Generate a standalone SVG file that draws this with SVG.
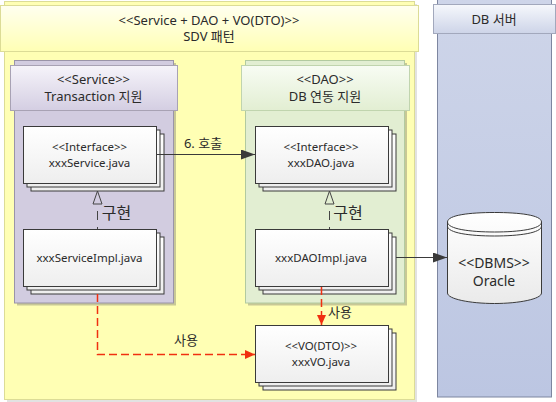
<svg xmlns="http://www.w3.org/2000/svg" width="556" height="402" viewBox="0 0 556 402">
<style>
text{font-family:"Noto Sans","Noto Sans CJK KR",sans-serif;font-size:11.500px;fill:#2b2b2b;text-anchor:middle}
.h{font-size:13px}
.big{font-size:14px}
.impl-label{font-size:16px}
.card{stroke:#3a3a3a;stroke-width:1;fill:url(#card)}
.hdr{stroke-width:1}
.line{fill:none;stroke:#3a3a3a;stroke-width:1}
.red{fill:none;stroke:#f03010;stroke-width:1.500;stroke-dasharray:8 4}
.impl{fill:none;stroke:#444;stroke-width:1}
</style>
<defs>
<linearGradient id="card" x1="0" y1="0" x2="0" y2="1"><stop offset="0" stop-color="#fff"/><stop offset="1" stop-color="#eee"/></linearGradient>
<linearGradient id="hy" x1="0" y1="0" x2="0" y2="1"><stop offset="0" stop-color="#fffff0"/><stop offset="1" stop-color="#ffffb4"/></linearGradient>
<linearGradient id="hp" x1="0" y1="0" x2="0" y2="1"><stop offset="0" stop-color="#f6f4fa"/><stop offset="1" stop-color="#d4cee2"/></linearGradient>
<linearGradient id="hg" x1="0" y1="0" x2="0" y2="1"><stop offset="0" stop-color="#f8fcf4"/><stop offset="1" stop-color="#e2eed2"/></linearGradient>
<linearGradient id="hb" x1="0" y1="0" x2="0" y2="1"><stop offset="0" stop-color="#f6f8fc"/><stop offset="1" stop-color="#cdd4e8"/></linearGradient>
<linearGradient id="db" x1="0" y1="0" x2="0" y2="1"><stop offset="0" stop-color="#ced5e9"/><stop offset="1" stop-color="#bcc6e2"/></linearGradient>
<linearGradient id="cyl" x1="0" y1="0" x2="0" y2="1"><stop offset="0" stop-color="#fff"/><stop offset="1" stop-color="#eaeaea"/></linearGradient>
<marker id="ah" markerUnits="userSpaceOnUse" markerWidth="14" markerHeight="10" refX="14" refY="5" orient="auto"><path d="M0 0L14 5L0 10Z" fill="#3a3a3a"/></marker>
<marker id="rh" markerUnits="userSpaceOnUse" markerWidth="10" markerHeight="9" refX="10" refY="4.500" orient="auto"><path d="M0 0L10 4.500L0 9Z" fill="#f03010"/></marker>
<g id="stack"><rect class="card" x="7.500" y="7.500" width="133" height="57"/><rect class="card" x="3.500" y="3.500" width="133" height="57"/><rect class="card" x="0" y="0" width="133" height="57"/></g>
</defs>

<g id="pattern">
<rect x="7" y="4" width="410" height="398" fill="#e2e2e2"/>
<rect x="4.500" y="1.500" width="410" height="398" fill="#ffffb4" stroke="#dcdc96"/>
<rect class="hdr" x="0.500" y="5.500" width="418" height="46" fill="url(#hy)" stroke="#dcdc96"/>
<text class="h" x="209" y="24.500">&lt;&lt;Service + DAO + VO(DTO)&gt;&gt;</text>
<text class="h" x="209" y="41">SDV 패턴</text>
</g>

<g id="service">
<rect x="17" y="63" width="159" height="242.500" fill="#c8c896"/>
<rect x="14.500" y="60.500" width="159" height="242.500" fill="#d2cce0" stroke="#9a94a8"/>
<rect class="hdr" x="10.500" y="65.500" width="167" height="45" fill="url(#hp)" stroke="#a8a2b4"/>
<text class="h" x="93.500" y="84">&lt;&lt;Service&gt;&gt;</text>
<text class="h" x="93.500" y="101">Transaction 지원</text>
</g>

<g id="dao">
<rect x="248" y="63" width="159" height="242.500" fill="#c8c896"/>
<rect x="245.500" y="60.500" width="159" height="242.500" fill="#e2eed2" stroke="#b2caa0"/>
<rect class="hdr" x="241.500" y="65.500" width="168" height="45" fill="url(#hg)" stroke="#c0d4ae"/>
<text class="h" x="325" y="84">&lt;&lt;DAO&gt;&gt;</text>
<text class="h" x="325" y="101">DB 연동 지원</text>
</g>

<g id="db-server">
<rect x="437.500" y="-2" width="114" height="399" fill="url(#db)" stroke="#7d86a0"/>
<rect class="hdr" x="433.500" y="4.500" width="122" height="29" fill="url(#hb)" stroke="#a2a8bc"/>
<text class="h" x="494" y="23.500">DB 서버</text>
</g>

<g id="xxxService">
<use href="#stack" x="23.500" y="126.500"/>
<text x="89.500" y="151">&lt;&lt;Interface&gt;&gt;</text>
<text x="89.500" y="167">xxxService.java</text>
</g>
<g id="xxxServiceImpl">
<use href="#stack" x="23.500" y="229.500"/>
<text x="89.500" y="262">xxxServiceImpl.java</text>
</g>
<g id="xxxDAO">
<use href="#stack" x="255.500" y="126.500"/>
<text x="321" y="151">&lt;&lt;Interface&gt;&gt;</text>
<text x="321" y="167">xxxDAO.java</text>
</g>
<g id="xxxDAOImpl">
<use href="#stack" x="255.500" y="229.500"/>
<text x="321" y="262">xxxDAOImpl.java</text>
</g>
<g id="xxxVO">
<use href="#stack" x="255.500" y="325.500"/>
<text x="321" y="350">&lt;&lt;VO(DTO)&gt;&gt;</text>
<text x="321" y="366">xxxVO.java</text>
</g>

<g id="oracle">
<path d="M447.500 222V293C447.500 299 470 303.500 494.500 303.500S541.500 299 541.500 293V222C541.500 215 519 212.500 494.500 212.500S447.500 215 447.500 222Z" fill="url(#cyl)" stroke="#3a3a3a"/>
<path d="M447.500 222C447.500 229 470 232 494.500 232S541.500 229 541.500 222" fill="none" stroke="#3a3a3a"/>
<path d="M447.500 226C447.500 233 470 236 494.500 236S541.500 233 541.500 226" fill="none" stroke="#3a3a3a"/>
<text class="big" x="494" y="268">&lt;&lt;DBMS&gt;&gt;</text>
<text class="big" x="494" y="286">Oracle</text>
</g>

<g id="connectors">
<path class="line" d="M156.500 154.500H255" marker-end="url(#ah)"/>
<text class="h" x="203" y="148">6. 호출</text>
<path class="line" d="M396 257.500H447" marker-end="url(#ah)"/>
<path class="impl" d="M97.500 211V220M97.500 227V229"/>
<path d="M93 204L97.500 191L102 204Z" fill="none" stroke="#444"/>
<text class="impl-label" x="116.500" y="219">구현</text>
<path class="impl" d="M329.500 211V220M329.500 227V229"/>
<path d="M325 204L329.500 191L334 204Z" fill="none" stroke="#444"/>
<text class="impl-label" x="348" y="219">구현</text>
<path class="red" d="M97.500 294V354.500H255" marker-end="url(#rh)"/>
<text class="h" x="186" y="345">사용</text>
<path class="red" d="M321.500 287V325" marker-end="url(#rh)"/>
<text class="h" x="340" y="317">사용</text>
</g>
</svg>
